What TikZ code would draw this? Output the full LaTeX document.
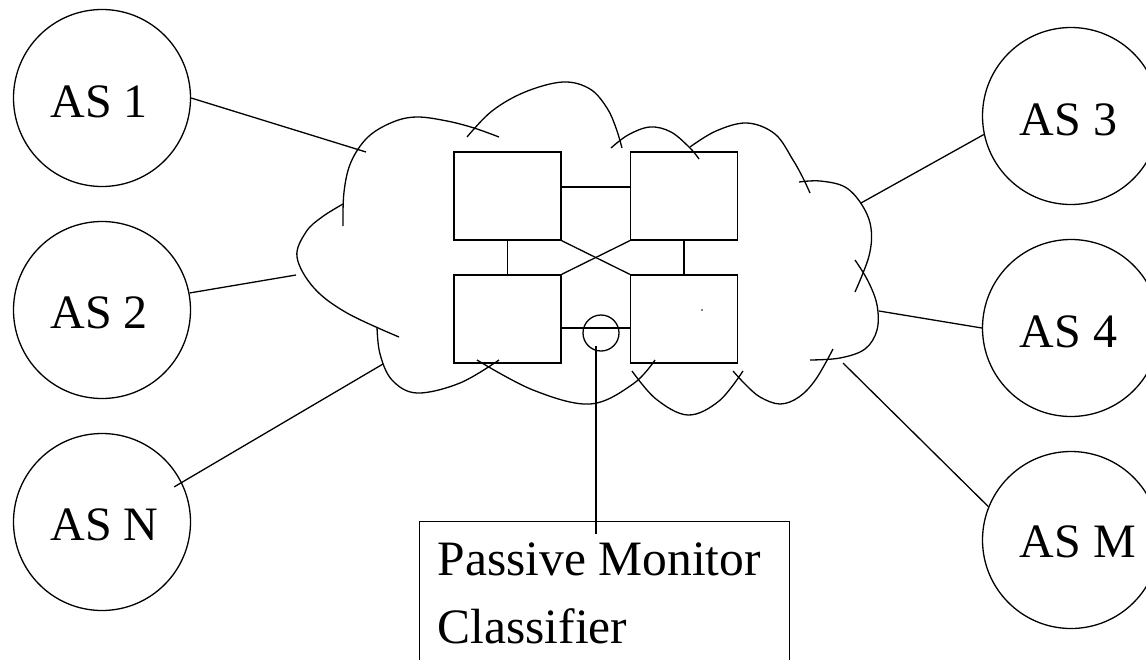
\documentclass[tikz,border=0pt]{standalone}
\usepackage{fontspec}
\setmainfont{Liberation Serif}
\begin{document}
\begin{tikzpicture}[x=1pt,y=-1pt,line width=1.3pt,
  asnode/.style={circle,draw,minimum size=177pt,inner sep=0pt},
  router/.style={rectangle,draw,minimum width=107pt,minimum height=88pt,inner sep=0pt},
  tapnode/.style={circle,draw,minimum size=36pt,inner sep=0pt},
  monbox/.style={rectangle,draw,minimum width=370pt,minimum height=170pt,inner sep=0pt,anchor=north west},
  lbl/.style={anchor=base west,inner sep=0pt,font=\fontsize{48}{58}\selectfont},
  mlbl/.style={anchor=base west,inner sep=0pt,font=\fontsize{49.5}{58}\selectfont},
  cloudarc/.style={line join=round}]
\useasboundingbox (0,0) rectangle (1146,659);
\clip (0,0) rectangle (1146,659);

% AS nodes
\node[asnode] (as1) at (102,98) {};
\node[asnode] (as2) at (102,310) {};
\node[asnode] (asn) at (102,522) {};
\node[asnode] (as3) at (1071,116) {};
\node[asnode] (as4) at (1071,328) {};
\node[asnode] (asm) at (1071,540) {};
\node[lbl] (t1) at ([shift={(-52pt,-19pt)}]as1.center) {AS 1};
\node[lbl] (t2) at ([shift={(-52pt,-18pt)}]as2.center) {AS 2};
\node[lbl] (tn) at ([shift={(-52pt,-18pt)}]asn.center) {AS N};
\node[lbl] (t3) at ([shift={(-52pt,-19pt)}]as3.center) {AS 3};
\node[lbl] (t4) at ([shift={(-52pt,-19pt)}]as4.center) {AS 4};
\node[lbl] (tm) at ([shift={(-52pt,-17pt)}]asm.center) {AS M};

% routers
\node[router] (tl) at (507.5,196) {};
\node[router] (tr) at (684,196) {};
\node[router] (bl) at (507.5,319) {};
\node[router] (br) at (684,319) {};
\fill (702,310) circle (0.9pt);

\draw ([yshift=9pt]tl.east) -- ([yshift=9pt]tr.west);
\draw (tl.south) -- (bl.north);
\draw (tr.south) -- (br.north);
\draw (tl.south east) -- (br.north west);
\draw (bl.north east) -- (tr.south west);
\draw ([yshift=-9pt]bl.east) -- ([yshift=-9pt]br.west);

% tap and monitor
\node[tapnode] (tap) at (601,333) {};
\node[monbox] (mon) at (419,521) {};
\node[mlbl] (m1) at ([shift={(18pt,-54pt)}]mon.north west) {Passive Monitor};
\node[mlbl] (m2) at ([shift={(18pt,-122pt)}]mon.north west) {Classifier};
\draw ([shift={(-5pt,-13pt)}]tap.center) -- ([shift={(-5pt,-13pt)}]tap.center |- mon.north);

% cloud
\draw[cloudarc] plot[smooth,tension=0.6] coordinates {(343,226) (344,192) (351,162) (368,137) (393,122) (417,117) (447,121) (474,128) (499,137)};
\draw[cloudarc] plot[smooth,tension=0.6] coordinates {(467,137) (492,111) (525,92) (563,82) (590,89) (607,108) (616,128) (622,148)};
\draw[cloudarc] plot[smooth,tension=0.6] coordinates {(611,148) (628,135) (650,127) (671,132) (690,148) (699,159)};
\draw[cloudarc] plot[smooth,tension=0.6] coordinates {(690,147) (716,131) (747,123) (775,134) (793,160) (803,178) (810,193)};
\draw[cloudarc] plot[smooth,tension=0.6] coordinates {(799,182) (820,181) (845,187) (862,205) (871,228) (869,256) (855,292)};
\draw[cloudarc] plot[smooth,tension=0.6] coordinates {(855,260) (868,281) (877,305) (877,330) (865,349) (840,358) (810,360)};
\draw[cloudarc] plot[smooth,tension=0.6] coordinates {(833,349) (816,379) (799,397) (780,404) (760,397) (745,384) (733,371)};
\draw[cloudarc] plot[smooth,tension=0.6] coordinates {(632,371) (656,399) (688,415) (719,401) (743,371)};
\draw[cloudarc] plot[smooth,tension=0.6] coordinates {(477,360) (533,390) (590,404) (633,384) (655,360)};
\draw[cloudarc] plot[smooth,tension=0.6] coordinates {(377,327) (380,354) (392,380) (417,393) (460,383) (499,360)};
\draw[cloudarc] plot[smooth,tension=0.6] coordinates {(399,337) (347,313) (314,288) (297,257) (306,232) (322,217) (343,204)};

% AS connectors
\coordinate (c1) at (366,152);
\coordinate (c2) at (296,275);
\coordinate (cn) at (383,364);
\coordinate (c3) at (861,203);
\coordinate (c4) at (879,311);
\coordinate (cm) at (843,363);
\draw (as1.0) -- (c1);
\draw (as2.11) -- (c2);
\draw ([shift={(-8pt,-4pt)}]asn.26) -- (cn);
\draw (as3.192) -- (c3);
\draw (as4.180) -- (c4);
\draw (asm.158) -- (cm);
\end{tikzpicture}
\end{document}
